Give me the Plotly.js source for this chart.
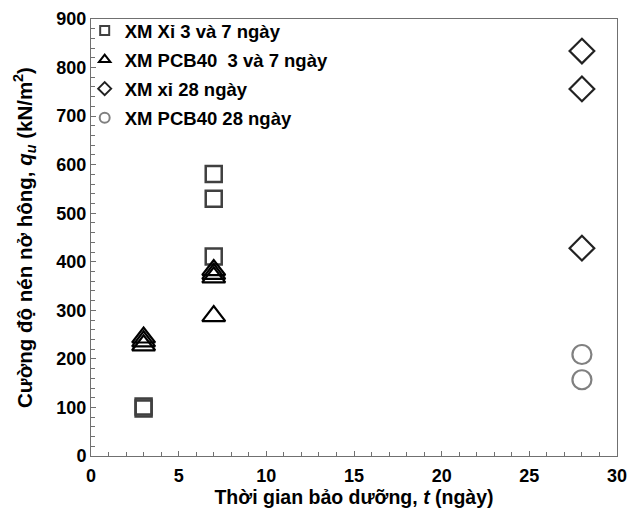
<!DOCTYPE html>
<html>
<head>
<meta charset="utf-8">
<script src="https://cdn.plot.ly/plotly-3.0.1.min.js"></script>
<style>html,body{margin:0;padding:0;background:#fff;}#chart{width:630px;height:518px;}</style>
</head>
<body>
<div id="chart"></div>
<script>
// Data
const xiEarlyDays = [3, 3, 7, 7, 7];
const xiEarlyQu = [98, 102, 581, 530, 411];
const pcbEarlyDays = [3, 3, 3, 7, 7, 7, 7];
const pcbEarlyQu = [228, 236, 244, 383, 375, 368, 288];
const xi28Days = [28, 28, 28];
const xi28Qu = [834, 756, 428];
const pcb28Days = [28, 28];
const pcb28Qu = [209, 157];
const seriesNames = ["XM Xỉ 3 và 7 ngày", "XM PCB40  3 và 7 ngày", "XM xỉ 28 ngày", "XM PCB40 28 ngày"];

const font = {family: "Liberation Sans, Arial, sans-serif", color: "#000"};

const styles = [
  {symbol: "square-open", color: "#404040", size: 16, lw: 2.5, lsize: 9},
  {symbol: "triangle-up-open", color: "#000000", size: 20, lw: 2.2, lsize: 10},
  {symbol: "diamond-open", color: "#222222", size: 19, lw: 2.2, lsize: 10},
  {symbol: "circle-open", color: "#808080", size: 19, lw: 2.2, lsize: 10}
];
const xs = [xiEarlyDays, pcbEarlyDays, xi28Days, pcb28Days];
const ys = [xiEarlyQu, pcbEarlyQu, xi28Qu, pcb28Qu];

const traces = [];
for (let i = 0; i < 4; i++) {
  const s = styles[i];
  traces.push({
    x: xs[i], y: ys[i], type: "scatter", mode: "markers", name: seriesNames[i],
    showlegend: false, hoverinfo: "x+y",
    marker: {symbol: s.symbol, size: s.size, color: s.color, line: {color: s.color, width: s.lw}}
  });
}
for (let i = 0; i < 4; i++) {
  const s = styles[i];
  traces.push({
    x: [null], y: [null], type: "scatter", mode: "markers", name: seriesNames[i],
    legendgroup: "g" + i, showlegend: true,
    marker: {symbol: s.symbol, size: s.lsize, color: s.color, line: {color: s.color, width: 2}}
  });
}

const axisCommon = {
  showgrid: false, zeroline: false, showline: true, linecolor: "#707070", linewidth: 1,
  mirror: true, ticks: "inside", ticklen: 5, tickcolor: "#707070", tickwidth: 1,
  tickfont: Object.assign({}, font, {size: 18, weight: "bold"})
};

const layout = {
  width: 630, height: 518,
  margin: {l: 91, r: 13, t: 17, b: 62},
  paper_bgcolor: "#fff", plot_bgcolor: "#fff",
  font: font,
  showlegend: true,
  legend: {
    x: -0.012, y: 1.016, xanchor: "left", yanchor: "top",
    xref: "paper", yref: "paper",
    bgcolor: "rgba(0,0,0,0)", borderwidth: 0,
    font: Object.assign({}, font, {size: 18.5, weight: "bold"}),
    traceorder: "grouped", tracegroupgap: 2,
    itemsizing: "trace"
  },
  xaxis: Object.assign({}, axisCommon, {
    range: [0, 30], dtick: 5, tick0: 0, ticklabelstandoff: 3,
    minor: {dtick: 1, ticks: "inside", ticklen: 4, tickcolor: "#707070"},
    title: {text: "Thời gian bảo dưỡng, <i>t</i> (ngày)", font: Object.assign({}, font, {size: 19.5, weight: "bold"}), standoff: 4}
  }),
  yaxis: Object.assign({}, axisCommon, {
    range: [0, 900], dtick: 100, tick0: 0,
    minor: {dtick: 20, ticks: "inside", ticklen: 4, tickcolor: "#707070"},
    title: {text: "Cường độ nén nở hông, <i>q<sub>u</sub></i> (kN/m<sup>2</sup>)", font: Object.assign({}, font, {size: 20.5, weight: "bold"}), standoff: 18}
  })
};

Plotly.newPlot("chart", traces, layout, {displayModeBar: false, staticPlot: true});
</script>
</body>
</html>
